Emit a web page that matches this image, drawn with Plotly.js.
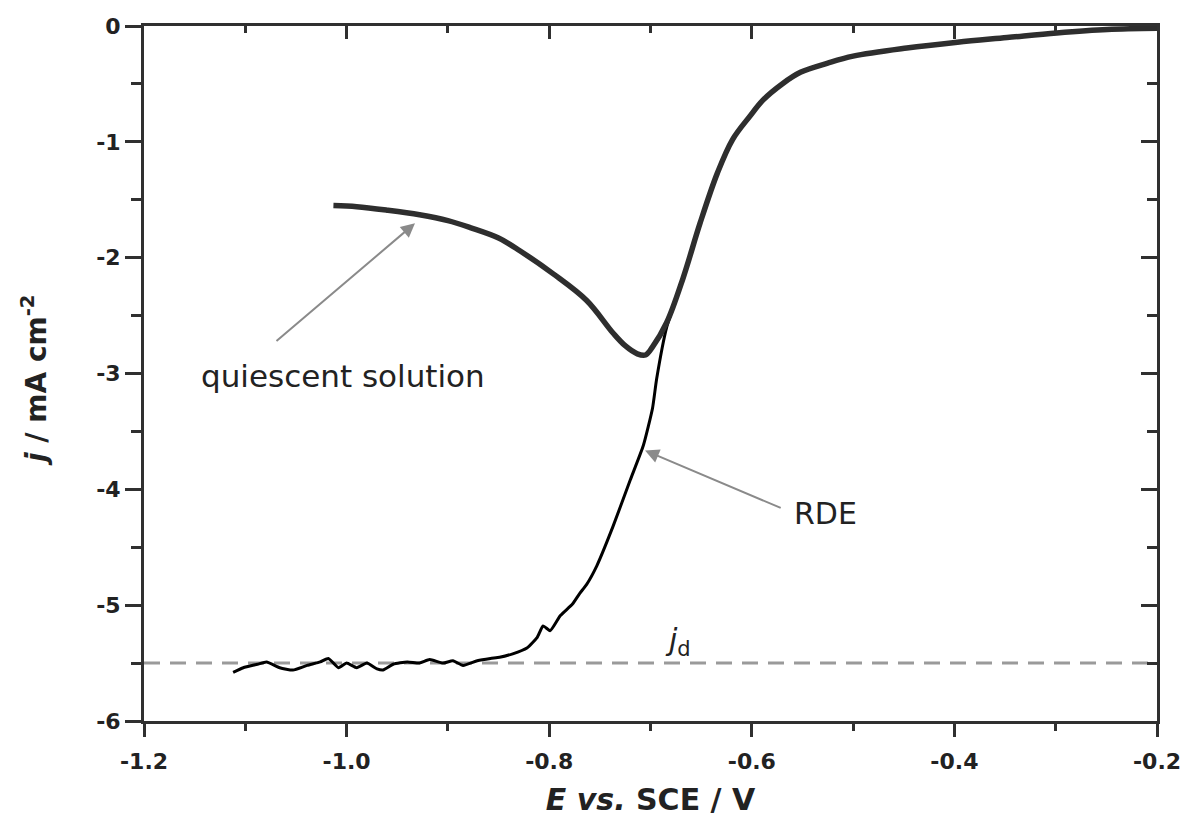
<!DOCTYPE html>
<html>
<head>
<meta charset="utf-8">
<script src="https://cdn.plot.ly/plotly-3.0.1.min.js"></script>
<style>
html,body{margin:0;padding:0;background:#fff;}
#chart{width:1183px;height:819px;}
</style>
</head>
<body>
<div id="chart"></div>
<script>
// RDE curve (E vs SCE / V, j / mA cm^-2)
const rdeE = [-1.112,-1.102,-1.088,-1.079,-1.066,-1.053,-1.039,-1.026,-1.018,-1.008,-1.000,-0.990,-0.980,-0.970,-0.964,-0.954,-0.940,-0.928,-0.918,-0.905,-0.895,-0.885,-0.871,-0.858,-0.849,-0.836,-0.822,-0.812,-0.806,-0.799,-0.789,-0.777,-0.770,-0.763,-0.753,-0.737,-0.720,-0.707,-0.698,-0.694,-0.684,-0.668,-0.651,-0.634,-0.619,-0.602,-0.589,-0.570,-0.552,-0.525,-0.500,-0.447,-0.397,-0.348,-0.299,-0.249,-0.200];
const rdeJ = [-5.58,-5.54,-5.51,-5.49,-5.54,-5.56,-5.52,-5.49,-5.46,-5.54,-5.50,-5.54,-5.50,-5.55,-5.56,-5.51,-5.49,-5.50,-5.47,-5.50,-5.48,-5.52,-5.48,-5.46,-5.45,-5.42,-5.37,-5.28,-5.18,-5.22,-5.09,-4.99,-4.90,-4.82,-4.66,-4.32,-3.92,-3.62,-3.30,-3.05,-2.60,-2.18,-1.70,-1.27,-0.98,-0.78,-0.64,-0.50,-0.40,-0.32,-0.26,-0.19,-0.14,-0.10,-0.06,-0.03,-0.02];

// Quiescent solution curve
const quiE = [-1.013,-0.990,-0.960,-0.928,-0.900,-0.878,-0.850,-0.829,-0.796,-0.763,-0.737,-0.725,-0.713,-0.705,-0.698,-0.684,-0.668,-0.651,-0.634,-0.619,-0.602,-0.589,-0.570,-0.552,-0.525,-0.500,-0.447,-0.397,-0.348,-0.299,-0.249,-0.200];
const quiJ = [-1.55,-1.56,-1.59,-1.63,-1.68,-1.74,-1.83,-1.94,-2.14,-2.37,-2.65,-2.76,-2.83,-2.84,-2.77,-2.56,-2.18,-1.70,-1.27,-0.98,-0.78,-0.64,-0.50,-0.40,-0.32,-0.26,-0.19,-0.14,-0.10,-0.06,-0.03,-0.02];

// Diffusion-limited current density
const jdValue = -5.5;
const jdE = [-1.2, -0.2];

// Ticks
const xTickVals = [-1.2,-1.0,-0.8,-0.6,-0.4,-0.2];
const xTickText = ["-1.2","-1.0","-0.8","-0.6","-0.4","-0.2"];
const xMinorVals = [-1.1,-0.9,-0.7,-0.5,-0.3];
const yTickVals = [0,-1,-2,-3,-4,-5,-6];
const yTickText = ["0","-1","-2","-3","-4","-5","-6"];
const yMinorVals = [-0.5,-1.5,-2.5,-3.5,-4.5,-5.5];

const axisColor = '#303030';
const tickFont = {family:'DejaVu Sans', size:22, color:'#222', weight:'bold'};

const traces = [
  {x: jdE, y: jdE.map(()=>jdValue), mode:'lines', line:{color:'#9a9a9a', width:3, dash:'16px,10px'}, hoverinfo:'skip', showlegend:false},
  {x: rdeE, y: rdeJ, mode:'lines', line:{color:'#000', width:3, shape:'spline', smoothing:0.5}, showlegend:false},
  {x: quiE, y: quiJ, mode:'lines', line:{color:'#2e2e2e', width:5.5, shape:'spline', smoothing:1}, showlegend:false},
  {x: [], y: [], xaxis:'x2', yaxis:'y2', showlegend:false, hoverinfo:'skip'}
];

const layout = {
  width:1183, height:819,
  paper_bgcolor:'#fff', plot_bgcolor:'#fff',
  margin:{l:144, r:26, t:26, b:98},
  showlegend:false,
  xaxis:{
    range:[-1.2,-0.2], tickmode:'array', tickvals:xTickVals, ticktext:xTickText,
    ticks:'outside', ticklen:13, tickwidth:3, tickcolor:axisColor,
    minor:{tickmode:'array', tickvals:xMinorVals, ticks:'outside', ticklen:7, tickwidth:3, tickcolor:axisColor, showgrid:false},
    showline:true, linewidth:3, linecolor:axisColor, showgrid:false, zeroline:false,
    tickfont:tickFont, ticklabelstandoff:6,
    title:{text:'<b><i>E vs.</i> SCE / V</b>', font:{family:'DejaVu Sans', size:30, color:'#222'}, standoff:16}
  },
  yaxis:{
    range:[-6,0], tickmode:'array', tickvals:yTickVals, ticktext:yTickText,
    ticks:'outside', ticklen:16, tickwidth:3, tickcolor:axisColor,
    minor:{tickmode:'array', tickvals:yMinorVals, ticks:'outside', ticklen:10, tickwidth:3, tickcolor:axisColor, showgrid:false},
    showline:true, linewidth:3, linecolor:axisColor, showgrid:false, zeroline:false,
    tickfont:tickFont
  },
  xaxis2:{
    overlaying:'x', side:'top', anchor:'y2', range:[-1.2,-0.2],
    tickmode:'array', tickvals:xTickVals, ticks:'inside', ticklen:13, tickwidth:3, tickcolor:axisColor,
    minor:{tickmode:'array', tickvals:xMinorVals, ticks:'inside', ticklen:7, tickwidth:3, tickcolor:axisColor, showgrid:false},
    showticklabels:false, showline:true, linewidth:3, linecolor:axisColor, showgrid:false, zeroline:false
  },
  yaxis2:{
    overlaying:'y', side:'right', anchor:'x2', range:[-6,0],
    tickmode:'array', tickvals:yTickVals, ticks:'inside', ticklen:16, tickwidth:3, tickcolor:axisColor,
    minor:{tickmode:'array', tickvals:yMinorVals, ticks:'inside', ticklen:10, tickwidth:3, tickcolor:axisColor, showgrid:false},
    showticklabels:false, showline:true, linewidth:3, linecolor:axisColor, showgrid:false, zeroline:false
  },
  annotations:[
    {x:-0.9325, y:-1.703, ax:-1.0707, ay:-2.731, axref:'x', ayref:'y', xref:'x', yref:'y', text:'', showarrow:true, arrowhead:2, arrowsize:1.4, arrowwidth:2, arrowcolor:'#8a8a8a'},
    {x:-0.7054, y:-3.665, ax:-0.570, ay:-4.166, axref:'x', ayref:'y', xref:'x', yref:'y', text:'', showarrow:true, arrowhead:2, arrowsize:1.4, arrowwidth:2, arrowcolor:'#8a8a8a'},
    {x:-1.004, y:-3.025, xref:'x', yref:'y', text:'quiescent solution', showarrow:false, font:{family:'DejaVu Sans', size:31, color:'#222'}},
    {x:-0.527, y:-4.21, xref:'x', yref:'y', text:'RDE', showarrow:false, font:{family:'DejaVu Sans', size:30, color:'#222'}},
    {x:-0.673, y:-5.31, xref:'x', yref:'y', text:'<i>j</i><sub>d</sub>', showarrow:false, font:{family:'DejaVu Sans', size:30, color:'#222'}},
    {x:-0.108, y:0.49, xref:'paper', yref:'paper', xanchor:'center', yanchor:'middle', textangle:-90, showarrow:false,
     text:'<b><i>j</i> / mA cm<sup>-2</sup></b>', font:{family:'DejaVu Sans', size:28, color:'#222'}}
  ]
};

Plotly.newPlot('chart', traces, layout, {displayModeBar:false, staticPlot:true});
</script>
</body>
</html>
